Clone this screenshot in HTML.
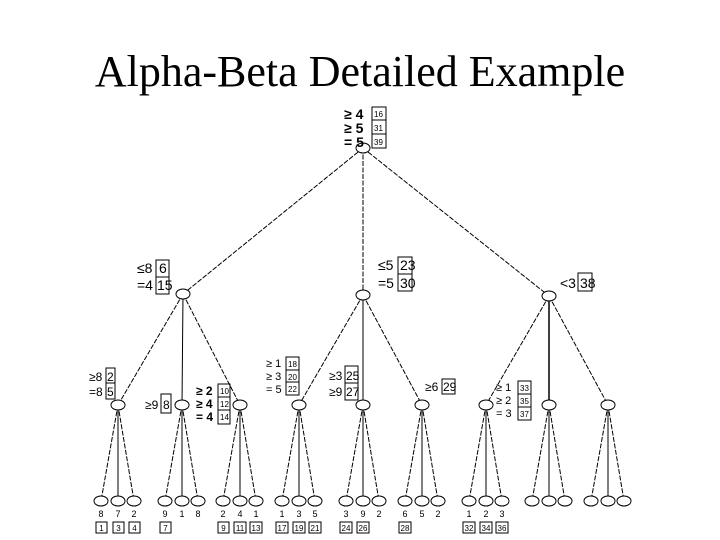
<!DOCTYPE html>
<html><head><meta charset="utf-8"><style>
html,body{margin:0;padding:0;background:#fff;width:720px;height:540px;overflow:hidden}
svg{display:block}
text{font-family:"Liberation Sans",sans-serif;fill:#000}
</style></head><body>
<svg width="720" height="540" viewBox="0 0 720 540" xmlns="http://www.w3.org/2000/svg">
<text x="360" y="86" text-anchor="middle" style="font-family:'Liberation Serif',serif;font-size:44px">Alpha-Beta Detailed Example</text>
<g stroke="#000" stroke-width="1" fill="none" stroke-dasharray="5,1.5">
<line x1="363" y1="148" x2="183" y2="294"/><line x1="363" y1="148" x2="363" y2="295"/><line x1="363" y1="148" x2="549" y2="296"/>
<line x1="183" y1="294" x2="118" y2="405"/><line x1="183" y1="294" x2="182" y2="405" stroke-dasharray="none"/><line x1="183" y1="294" x2="240" y2="405"/>
<line x1="363" y1="295" x2="299" y2="405"/><line x1="363" y1="295" x2="363" y2="405" stroke-dasharray="none"/><line x1="363" y1="295" x2="422" y2="405"/>
<line x1="549" y1="296" x2="486" y2="405"/><line x1="549" y1="296" x2="549" y2="405" stroke-dasharray="none" stroke-width="1.5"/><line x1="549" y1="296" x2="608" y2="405"/>
<g id="t">
<line x1="118" y1="405" x2="101" y2="501"/><line x1="118" y1="405" x2="118" y2="501" stroke-dasharray="none"/><line x1="118" y1="405" x2="134" y2="501"/>
</g>
<use href="#t" x="64"/><use href="#t" x="122"/><use href="#t" x="181"/><use href="#t" x="245"/><use href="#t" x="304"/><use href="#t" x="368"/><use href="#t" x="431"/><use href="#t" x="490"/>
</g>
<g stroke="#000" stroke-width="1" fill="#fff">
<ellipse cx="363" cy="148" rx="7" ry="5"/>
<ellipse cx="183" cy="294" rx="7" ry="5"/><ellipse cx="363" cy="295" rx="7" ry="5"/><ellipse cx="549" cy="296" rx="7" ry="5"/>
<g id="n"><ellipse cx="118" cy="405" rx="7" ry="5"/><ellipse cx="101" cy="501" rx="7" ry="5"/><ellipse cx="118" cy="501" rx="7" ry="5"/><ellipse cx="134" cy="501" rx="7" ry="5"/></g>
<use href="#n" x="64"/><use href="#n" x="122"/><use href="#n" x="181"/><use href="#n" x="245"/><use href="#n" x="304"/><use href="#n" x="368"/><use href="#n" x="431"/><use href="#n" x="490"/>
</g>
<g font-size="9" text-anchor="middle">
<text x="101" y="517">8</text><text x="118" y="517">7</text><text x="134" y="517">2</text>
<text x="165" y="517">9</text><text x="182" y="517">1</text><text x="198" y="517">8</text>
<text x="223" y="517">2</text><text x="240" y="517">4</text><text x="256" y="517">1</text>
<text x="282" y="517">1</text><text x="299" y="517">3</text><text x="315" y="517">5</text>
<text x="346" y="517">3</text><text x="363" y="517">9</text><text x="379" y="517">2</text>
<text x="405" y="517">6</text><text x="422" y="517">5</text><text x="438" y="517">2</text>
<text x="469" y="517">1</text><text x="486" y="517">2</text><text x="502" y="517">3</text>
</g>
<g font-size="8" text-anchor="middle">
<g fill="none" stroke="#000" stroke-width="1">
<rect x="96" y="522" width="11" height="11"/><rect x="113" y="522" width="11" height="11"/><rect x="129" y="522" width="11" height="11"/>
<rect x="160" y="522" width="11" height="11"/>
<rect x="218" y="522" width="11" height="11"/><rect x="234" y="522" width="12" height="11"/><rect x="250" y="522" width="12" height="11"/>
<rect x="276" y="522" width="12" height="11"/><rect x="293" y="522" width="12" height="11"/><rect x="309" y="522" width="12" height="11"/>
<rect x="340" y="522" width="12" height="11"/><rect x="357" y="522" width="12" height="11"/>
<rect x="399" y="522" width="12" height="11"/>
<rect x="463" y="522" width="12" height="11"/><rect x="480" y="522" width="12" height="11"/><rect x="496" y="522" width="12" height="11"/>
</g>
<text x="101.5" y="531">1</text><text x="118.5" y="531">3</text><text x="134.5" y="531">4</text>
<text x="165.5" y="531">7</text>
<text x="223.5" y="531">9</text><text x="240" y="531">11</text><text x="256" y="531">13</text>
<text x="282" y="531">17</text><text x="299" y="531">19</text><text x="315" y="531">21</text>
<text x="346" y="531">24</text><text x="363" y="531">26</text>
<text x="405" y="531">28</text>
<text x="469" y="531">32</text><text x="486" y="531">34</text><text x="502" y="531">36</text>
</g>
<g fill="none" stroke="#000" stroke-width="1">
<rect x="372" y="107" width="14" height="41"/><line x1="372" y1="120" x2="386" y2="120"/><line x1="372" y1="134" x2="386" y2="134"/>
<rect x="156" y="260" width="13" height="34"/><line x1="156" y1="277" x2="169" y2="277"/>
<rect x="398" y="257" width="14" height="34"/><line x1="398" y1="274" x2="412" y2="274"/>
<rect x="578" y="273" width="14" height="18"/>
<rect x="106" y="368" width="9" height="31"/><line x1="106" y1="383" x2="115" y2="383"/>
<rect x="161" y="394" width="10" height="19"/>
<rect x="218" y="384" width="12" height="40"/><line x1="218" y1="397" x2="230" y2="397"/><line x1="218" y1="410" x2="230" y2="410"/>
<rect x="286" y="357" width="13" height="38"/><line x1="286" y1="370" x2="299" y2="370"/><line x1="286" y1="382" x2="299" y2="382"/>
<rect x="345" y="366" width="13" height="34"/><line x1="345" y1="383" x2="358" y2="383"/>
<rect x="442" y="379" width="13" height="15"/>
<rect x="518" y="381" width="13" height="39"/><line x1="518" y1="394" x2="531" y2="394"/><line x1="518" y1="407" x2="531" y2="407"/>
</g>
<g font-size="14" font-weight="bold">
<text x="344" y="119">≥ 4</text><text x="344" y="133">≥ 5</text><text x="344" y="147">= 5</text>
</g>
<g font-size="8"><text x="374" y="117">16</text><text x="374" y="131">31</text><text x="374" y="145">39</text></g>
<g font-size="14"><text x="137" y="273">≤8</text><text x="159" y="273">6</text><text x="137" y="290">=4</text><text x="157" y="290">15</text>
<text x="378" y="270">≤5</text><text x="400" y="270">23</text><text x="378" y="288">=5</text><text x="400" y="288">30</text>
<text x="560" y="288">&lt;3</text><text x="580" y="288">38</text></g>
<g font-size="12">
<text x="89" y="381">≥8</text><text x="107" y="381">2</text><text x="89" y="396">=8</text><text x="107" y="396">5</text>
<text x="145" y="409">≥9</text><text x="163" y="409">8</text>
<text x="329" y="380">≥3</text><text x="346" y="380">25</text><text x="329" y="396">≥9</text><text x="346" y="396">27</text>
<text x="425" y="391">≥6</text><text x="443" y="391">29</text>
</g>
<g font-size="12" font-weight="bold">
<text x="196" y="395">≥ 2</text><text x="196" y="408">≥ 4</text><text x="196" y="421">= 4</text>
</g>
<g font-size="8"><text x="220" y="394">10</text><text x="220" y="407">12</text><text x="220" y="420">14</text>
<text x="288" y="367">18</text><text x="288" y="380">20</text><text x="288" y="392">22</text>
<text x="520" y="391">33</text><text x="520" y="404">35</text><text x="520" y="417">37</text></g>
<g font-size="11">
<text x="266" y="367">≥ 1</text><text x="266" y="380">≥ 3</text><text x="266" y="393">= 5</text>
<text x="496" y="391">≥ 1</text><text x="496" y="404">≥ 2</text><text x="496" y="417">= 3</text>
</g>
</svg>
</body></html>
